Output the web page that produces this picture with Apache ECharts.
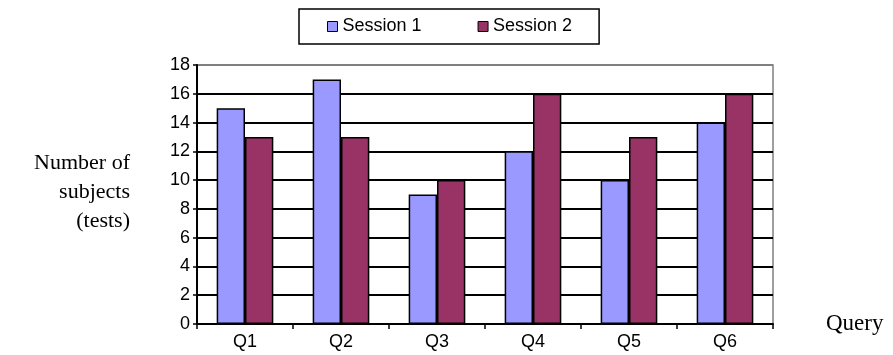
<!DOCTYPE html>
<html>
<head>
<meta charset="utf-8">
<script src="https://cdn.jsdelivr.net/npm/echarts@6/dist/echarts.min.js"></script>
<style>
  html, body { margin: 0; padding: 0; background: #fff; }
  #chart { width: 893px; height: 355px; }
</style>
</head>
<body>
<div id="chart"></div>
<script>
// Queries on the x axis
const categories = ['Q1', 'Q2', 'Q3', 'Q4', 'Q5', 'Q6'];
// Number of subjects per query in each session
const session1 = [15, 17, 9, 12, 10, 14];
const session2 = [13, 13, 10, 16, 13, 16];
const seriesNames = ['Session 1', 'Session 2'];
const yTicks = [0, 2, 4, 6, 8, 10, 12, 14, 16, 18];

const chart = echarts.init(document.getElementById('chart'), null, { renderer: 'canvas' });

const sans = 'Liberation Sans, Arial, sans-serif';
const serif = 'Liberation Serif, Times New Roman, serif';

// black grid lines, the top one grey to blend with the frame
const splitColors = yTicks.map((v, i) => i === yTicks.length - 1 ? '#808080' : '#000');

chart.setOption({
  animation: false,
  backgroundColor: '#fff',
  grid: {
    left: 197, right: 120, top: 65, bottom: 31,
    show: true, borderColor: '#808080', borderWidth: 1.5, backgroundColor: 'transparent'
  },
  legend: {
    left: 299, top: 9,
    data: seriesNames,
    itemWidth: 10, itemHeight: 10, itemGap: 56,
    icon: 'rect',
    borderColor: '#000', borderWidth: 1.5,
    padding: [8.5, 27, 8.5, 28],
    textStyle: { fontFamily: sans, fontSize: 18, color: '#000' },
    itemStyle: { borderColor: '#000', borderWidth: 1 }
  },
  xAxis: {
    type: 'category',
    data: categories,
    name: 'Query',
    nameLocation: 'end',
    nameGap: 53,
    nameTextStyle: { fontFamily: serif, fontSize: 23, color: '#000', verticalAlign: 'middle', padding: [20, 0, 0, 0] },
    axisLine: { lineStyle: { color: '#000', width: 2 } },
    axisTick: { show: true, length: 5, lineStyle: { color: '#000', width: 1.5 } },
    axisLabel: { fontFamily: sans, fontSize: 18, color: '#000', margin: 9 }
  },
  yAxis: {
    type: 'value',
    min: 0, max: 18, interval: 2,
    axisLine: { show: true, lineStyle: { color: '#000', width: 2 } },
    axisTick: { show: true, length: 4, lineStyle: { color: '#000', width: 1.5 } },
    axisLabel: { fontFamily: sans, fontSize: 18, color: '#000', margin: 7 },
    splitLine: { show: true, lineStyle: { color: splitColors, width: 2 } }
  },
  graphic: [{
    type: 'text',
    x: 130,
    y: 149,
    style: {
      text: 'Number of\nsubjects\n(tests)',
      align: 'right',
      verticalAlign: 'top',
      fontFamily: serif, fontSize: 22, lineHeight: 29, fill: '#000'
    }
  }],
  series: [
    {
      name: seriesNames[0], type: 'bar', data: session1,
      barGap: '0%', barCategoryGap: '41%',
      itemStyle: { color: '#9999FF', borderColor: '#000', borderWidth: 1.5 }
    },
    {
      name: seriesNames[1], type: 'bar', data: session2,
      barGap: '0%', barCategoryGap: '41%',
      itemStyle: { color: '#993366', borderColor: '#000', borderWidth: 1.5 }
    }
  ]
});
</script>
</body>
</html>
